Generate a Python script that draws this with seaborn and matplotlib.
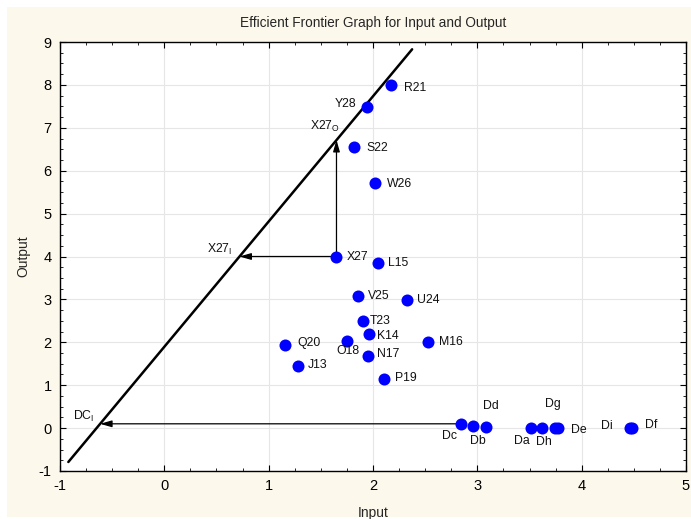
import matplotlib
matplotlib.use("Agg")
import matplotlib.pyplot as plt
import seaborn as sns
import pandas as pd
from matplotlib.patches import Rectangle
from matplotlib.ticker import MultipleLocator

# ---- data ----
names = ["R21", "Y28", "S22", "W26", "X27", "L15", "V25", "U24", "T23", "K14",
         "O18", "N17", "M16", "Q20", "J13", "P19",
         "Dc", "Db", "Dd", "Da", "Dh", "Dg", "De", "Di", "Df"]
inputs = [2.17, 1.94, 1.82, 2.02, 1.65, 2.05, 1.86, 2.33, 1.90, 1.96,
          1.75, 1.95, 2.53, 1.16, 1.28, 2.11,
          2.84, 2.96, 3.08, 3.51, 3.62, 3.74, 3.77, 4.46, 4.48]
outputs = [7.99, 7.49, 6.55, 5.71, 4.00, 3.84, 3.07, 2.99, 2.50, 2.20,
           2.03, 1.69, 2.00, 1.93, 1.44, 1.14,
           0.10, 0.05, 0.02, 0.01, 0.01, 0.01, 0.01, 0.01, 0.01]
# label offsets (pixels) and alignment
label_dx = [13, -10, 12, 12, 10, 10, 10, 10, 7, 8,
            1, 9, 11, 12, 10, 11,
            -11, 5, 5, -9, 2, -2, 13, -17, 13]
label_dy = [-3, 3, -1, -1, -1, 0, 0, 0, 0, -2,
            -10, 2, 0, 2, 1, 1,
            -12, -15, 21, -13, -14, 24, -2, 2, 3]
label_ha = ["left", "right", "left", "left", "left", "left", "left", "left", "left", "left",
            "center", "left", "left", "left", "left", "left",
            "center", "center", "center", "center", "center", "center", "left", "right", "left"]

frontier_x = [-0.92, 2.375]
frontier_y = [-0.79, 8.83]
frontier_intercept = 1.9
frontier_slope = 2.92

x_ticks = [-1, 0, 1, 2, 3, 4, 5]
y_ticks = [-1, 0, 1, 2, 3, 4, 5, 6, 7, 8, 9]

df = pd.DataFrame({"Input": inputs, "Output": outputs, "name": names})

# ---- style ----
sns.set_style("ticks")
plt.rcParams["font.family"] = ["Liberation Sans", "DejaVu Sans"]
plt.rcParams["mathtext.fontset"] = "custom"
plt.rcParams["mathtext.rm"] = "Liberation Sans"
plt.rcParams["mathtext.it"] = "Liberation Sans"
plt.rcParams["mathtext.default"] = "regular"
plt.rcParams["axes.unicode_minus"] = False

LBL = 8.8

fig = plt.figure(figsize=(6.91, 5.19), dpi=100, facecolor="white")
fig.patches.append(Rectangle((7 / 691, 2 / 519), 684 / 691, 510 / 519,
                             transform=fig.transFigure, facecolor="#FDF8EC",
                             edgecolor="none", zorder=-10))
ax = fig.add_axes([60 / 691, 48 / 519, 626 / 691, 429 / 519])
ax.set_facecolor("white")

# frontier line
sns.lineplot(x=frontier_x, y=frontier_y, ax=ax, color="black", linewidth=1.8,
             zorder=3, legend=False)

# points
sns.scatterplot(data=df, x="Input", y="Output", ax=ax, color="#0000FF", s=75,
                edgecolor="#0000FF", linewidth=0, zorder=4, legend=False)

for n, x, y, dx, dy, ha in zip(names, inputs, outputs, label_dx, label_dy, label_ha):
    ax.annotate(n, (x, y), xytext=(dx, dy), textcoords="offset pixels",
                ha=ha, va="center", fontsize=LBL, color="#111111", zorder=5)

arrow_kw = dict(arrowstyle="-|>,head_length=0.7,head_width=0.2", color="black",
                lw=0.9, shrinkA=0, shrinkB=0)

# X27 projections
i27 = names.index("X27")
x27, y27 = inputs[i27], outputs[i27]
xi = (y27 - frontier_intercept) / frontier_slope
ax.annotate("", xy=(xi, y27), xytext=(x27, y27), arrowprops=arrow_kw, zorder=3)
ax.annotate("X27$_I$", (xi, y27), xytext=(-7, 7), textcoords="offset pixels",
            ha="right", va="center", fontsize=LBL, color="#111111")
yo = frontier_intercept + frontier_slope * x27
ax.annotate("", xy=(x27, yo), xytext=(x27, y27), arrowprops=arrow_kw, zorder=3)
ax.annotate("X27$_O$", (x27, yo), xytext=(4, 13), textcoords="offset pixels",
            ha="right", va="center", fontsize=LBL, color="#111111")

# DC projection
idc = names.index("Dc")
xdc, ydc = inputs[idc], outputs[idc]
xdi = (ydc - frontier_intercept) / frontier_slope
ax.annotate("", xy=(xdi, ydc), xytext=(xdc, ydc), arrowprops=arrow_kw, zorder=3)
ax.annotate("DC$_I$", (xdi, ydc), xytext=(-6, 7), textcoords="offset pixels",
            ha="right", va="center", fontsize=LBL, color="#111111")

# axes
ax.set_xlim(-1, 5)
ax.set_ylim(-1, 9)
ax.set_xticks(x_ticks)
ax.set_yticks(y_ticks)
ax.xaxis.set_minor_locator(MultipleLocator(0.25))
ax.yaxis.set_minor_locator(MultipleLocator(0.25))
ax.tick_params(which="both", direction="in", top=True, right=True,
               labelsize=10.5, colors="black")
ax.tick_params(which="major", length=4, width=0.8, pad=6)
ax.tick_params(which="minor", length=2.5, width=0.6)
ax.grid(True, which="major", color="#E6E6E6", linewidth=0.8)
ax.set_axisbelow(True)
for sp in ax.spines.values():
    sp.set_color("black")
    sp.set_linewidth(1.0)
    sp.set_visible(True)

ax.set_xlabel("Input", fontsize=10, labelpad=9)
ax.set_ylabel("Output", fontsize=10, labelpad=6)
ax.set_title("Efficient Frontier Graph for Input and Output", fontsize=9.8, pad=11)

fig.savefig("out.png", dpi=100, facecolor=fig.get_facecolor())
